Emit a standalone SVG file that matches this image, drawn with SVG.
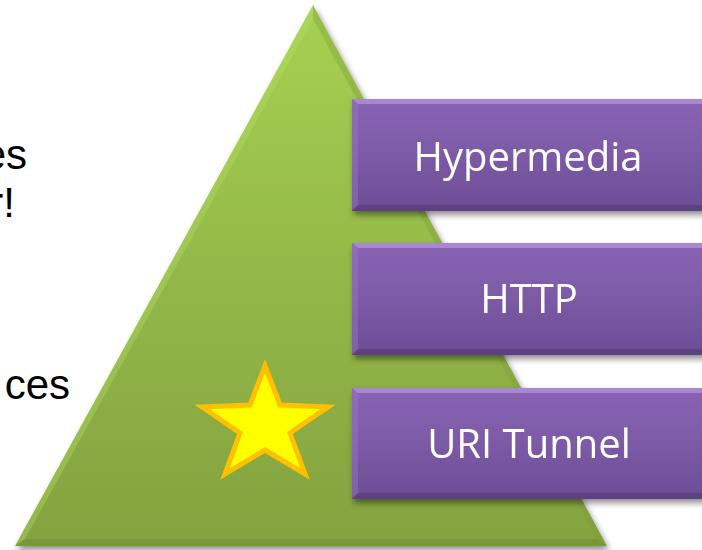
<svg xmlns="http://www.w3.org/2000/svg" width="702" height="550" viewBox="0 0 702 550">
<defs>
<linearGradient id="gTri" x1="0" y1="0" x2="0" y2="1">
<stop offset="0" stop-color="#a6d152"/>
<stop offset="0.5" stop-color="#94b848"/>
<stop offset="1" stop-color="#83a33f"/>
</linearGradient>
<linearGradient id="gBox" x1="0" y1="0" x2="0" y2="1">
<stop offset="0" stop-color="#8a64b4"/>
<stop offset="0.5" stop-color="#7c5aa6"/>
<stop offset="1" stop-color="#6c4c94"/>
</linearGradient>
<filter id="sh" x="-10%" y="-10%" width="130%" height="140%">
<feGaussianBlur in="SourceAlpha" stdDeviation="3"/>
<feOffset dx="2" dy="4" result="b"/>
<feComponentTransfer><feFuncA type="linear" slope="0.45"/></feComponentTransfer>
<feMerge><feMergeNode/><feMergeNode in="SourceGraphic"/></feMerge>
</filter>
<style>
.lt{font-family:"Liberation Sans",Arial,sans-serif;font-size:42px;fill:#000;text-anchor:end}
.bt{font-family:"Open Sans","Noto Sans",sans-serif;font-size:40px;fill:#fff;text-anchor:middle}
.box{fill:url(#gBox)}
.hi{fill:#b596e0;opacity:0.7}
.lo{fill:#4e3470;opacity:0.5}
.side{fill:#9a78c6;opacity:0.45}
</style>
</defs>
<rect width="702" height="550" fill="#fff"/>
<g id="left-text">
<text class="lt" x="27" y="169">es</text>
<text class="lt" x="15" y="217">r!</text>
<text class="lt" x="70" y="399">ces</text>
</g>
<g id="pyramid" filter="url(#sh)">
<polygon points="313,5 607,546 15,546" fill="url(#gTri)"/>
<polygon points="313,5 607,546 597,539 313,19" fill="#7d9a38" opacity="0.35"/>
<polygon points="313,5 313,19 25,539 15,546" fill="#b8e06a" opacity="0.35"/>
<polygon points="15,546 607,546 597,539 25,539" fill="#6e8a33" opacity="0.45"/>
</g>
<g id="star">
<polygon points="265,366 280,405 328,407 290,433 305,474 265,450 225,474 240,433 202,407 250,405" fill="#ffff00" stroke="#ffc000" stroke-width="5" stroke-linejoin="miter"/>
</g>
<g id="node-hypermedia" filter="url(#sh)">
<rect class="box" x="352" y="99" width="352" height="112"/>
<polygon class="hi" points="352,99 704,99 704,104 358,104"/>
<polygon class="side" points="352,99 358,104 358,205 352,211"/>
<polygon class="lo" points="352,211 704,211 704,205 358,205"/>
<text class="bt" x="528" y="171">Hypermedia</text>
</g>
<g id="node-http" filter="url(#sh)">
<rect class="box" x="352" y="243" width="352" height="112"/>
<polygon class="hi" points="352,243 704,243 704,248 358,248"/>
<polygon class="side" points="352,243 358,248 358,349 352,355"/>
<polygon class="lo" points="352,355 704,355 704,349 358,349"/>
<text class="bt" x="529" y="313">HTTP</text>
</g>
<g id="node-uri-tunnel" filter="url(#sh)">
<rect class="box" x="352" y="388" width="352" height="111"/>
<polygon class="hi" points="352,388 704,388 704,393 358,393"/>
<polygon class="side" points="352,388 358,393 358,493 352,499"/>
<polygon class="lo" points="352,499 704,499 704,493 358,493"/>
<text class="bt" x="529" y="458">URI Tunnel</text>
</g>
<g id="connectors"/>
</svg>
